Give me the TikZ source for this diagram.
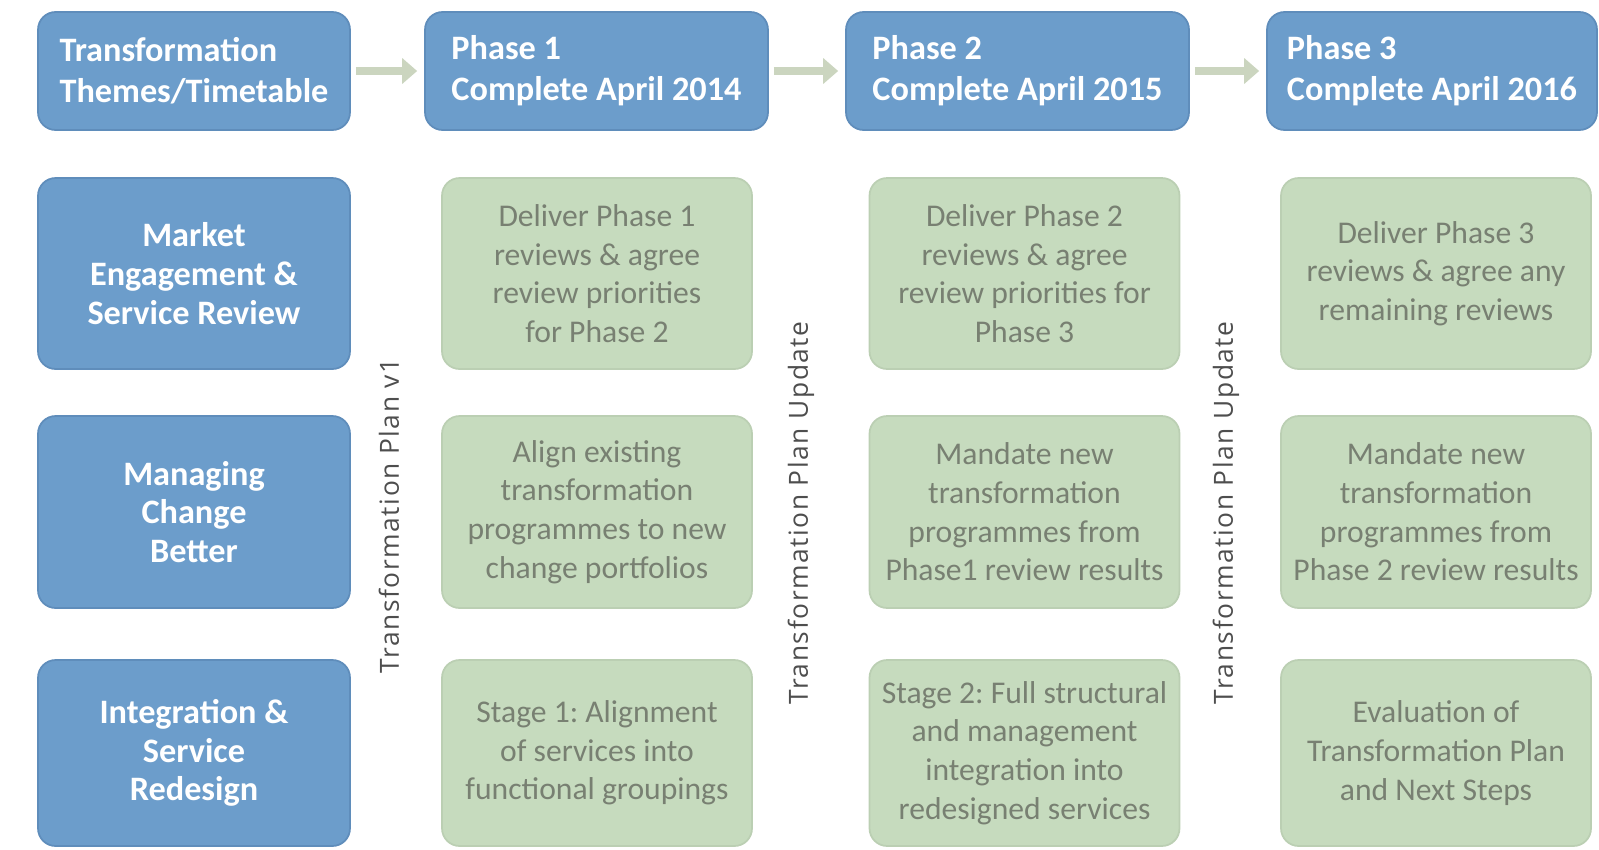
\documentclass[tikz,border=0pt]{standalone}
\usepackage{fontspec}
\setmainfont{Carlito}
\newfontfamily\planfont[LetterSpace=6]{Open Sans}
\usetikzlibrary{arrows.meta}
\frenchspacing

\definecolor{phaseblue}{RGB}{108,157,203}
\definecolor{phaseedge}{RGB}{95,141,187}
\definecolor{taskgreen}{RGB}{198,219,190}
\definecolor{taskedge}{RGB}{187,207,179}
\definecolor{tasktext}{RGB}{120,128,114}
\definecolor{flowarrow}{RGB}{203,213,191}
\definecolor{plantext}{RGB}{78,78,78}

\begin{document}
\begin{tikzpicture}[x=0.02cm, y=-0.02cm,
    headbox/.style={draw=phaseedge, line width=1pt, fill=phaseblue, rounded corners=10pt,
        text=white, font=\bfseries\fontsize{19.5}{23.5}\selectfont, align=left,
        minimum height=2.36cm, minimum width=#1},
    themebox/.style={draw=phaseedge, line width=1pt, fill=phaseblue, rounded corners=10pt,
        text=white, font=\bfseries\fontsize{19.5}{22}\selectfont, align=center,
        minimum width=6.24cm, minimum height=#1},
    taskbox/.style={draw=taskedge, line width=1pt, fill=taskgreen, rounded corners=10pt,
        text=tasktext, font=\fontsize{18}{22}\selectfont, align=center,
        minimum width=6.2cm, minimum height=#1},
    planlabel/.style={rotate=90, text=plantext, font=\planfont\fontsize{15}{18}\selectfont},
    flow/.style={-{Triangle[length=0.3cm, width=0.5cm]}, line width=0.15cm, draw=flowarrow,
        shorten <=0.1cm, shorten >=0.14cm}]

    \fill[white] (0,0) rectangle (1599,849);

    % header row
    \foreach \n/\x/\w/\t in {h0/194/6.24cm/{Transformation\\Themes/Timetable},
        h1/596.5/6.86cm/{Phase 1\\Complete April 2014},
        h2/1017.5/6.86cm/{Phase 2\\Complete April 2015},
        h3/1432/6.6cm/{Phase 3\\Complete April 2016}}
        \node[headbox=\w] (\n) at (\x,71) {\t};

    \draw[flow] (h0.east) -- (h1.west);
    \draw[flow] (h1.east) -- (h2.west);
    \draw[flow] (h2.east) -- (h3.west);

    % themes
    \node[themebox=3.82cm] (t1) at (194,273.5) {Market\\Engagement \&\\Service Review};
    \node[themebox=3.84cm] (t2) at (194,512) {Managing\\Change\\Better};
    \node[themebox=3.72cm] (t3) at (194,753) {Integration \&\\Service\\Redesign};

    % phase tasks
    \foreach \n/\x/\y/\h/\t in {
        g11/597/273.5/3.82cm/{Deliver Phase 1\\reviews \& agree\\review priorities\\for Phase 2},
        g21/597/512/3.84cm/{Align existing\\transformation\\programmes to new\\change portfolios},
        g31/597/753/3.72cm/{Stage 1: Alignment\\of services into\\functional groupings},
        g12/1024.5/273.5/3.82cm/{Deliver Phase 2\\reviews \& agree\\review priorities for\\Phase 3},
        g22/1024.5/512/3.84cm/{Mandate new\\transformation\\programmes from\\Phase1 review results},
        g32/1024.5/753/3.72cm/{Stage 2: Full structural\\and management\\integration into\\redesigned services},
        g13/1436/273.5/3.82cm/{Deliver Phase 3\\reviews \& agree any\\remaining reviews},
        g23/1436/512/3.84cm/{Mandate new\\transformation\\programmes from\\Phase 2 review results},
        g33/1436/753/3.72cm/{Evaluation of\\Transformation Plan\\and Next Steps}}
        \node[taskbox=\h] (\n) at (\x,\y) {\t};

    % plan milestones
    \node[planlabel] (v1) at (389,516) {Transformation Plan v1};
    \node[planlabel] (v2) at (801,513) {Transformation Plan Update};
    \node[planlabel] (v3) at (1226,513) {Transformation Plan Update};
\end{tikzpicture}
\end{document}
